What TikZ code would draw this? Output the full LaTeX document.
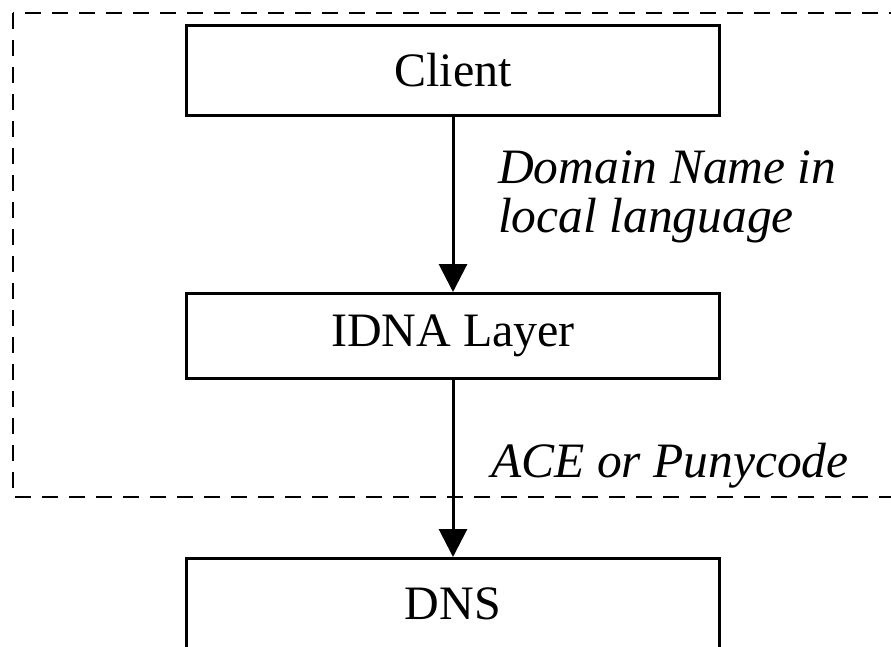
\documentclass[tikz,border=0pt]{standalone}
\usepackage{fontspec}
\setmainfont{Liberation Serif}
\usetikzlibrary{arrows.meta}
\tikzset{
  layer/.style={draw,line width=3pt,minimum width=533pt,inner sep=0pt,
    font=\fontsize{48}{49}\selectfont},
  flow/.style={line width=3pt,-{Triangle[width=28pt,length=28pt]}},
  flowlabel/.style={inner sep=0pt,align=left,
    font=\fontsize{49.5}{49}\selectfont\itshape}
}
\begin{document}
\begin{tikzpicture}[x=1pt,y=-1pt]
      \clip (0,0) rectangle (891,646);
      % local side
      \draw [line width=2.5pt,dash pattern=on 16pt off 11pt] (13,13) rectangle (920,497);
      % boxes
      \node [layer,minimum height=90pt] (client) at (453,70) {Client};
      \node [layer,minimum height=85pt] (idna) at (453,336) {IDNA Layer};
      \node [layer,minimum height=90pt] (dns) at (453,603.5) {DNS};
      % flows
      \draw [flow] (client) -- (idna);
      \draw [flow] (idna) -- (dns);
      \node [flowlabel,anchor=base west] (namelbl) at (498,232) {Domain Name in\\local language};
      \node [flowlabel,anchor=base west] (acelbl) at (491,477) {ACE or Punycode};
\end{tikzpicture}
\end{document}
